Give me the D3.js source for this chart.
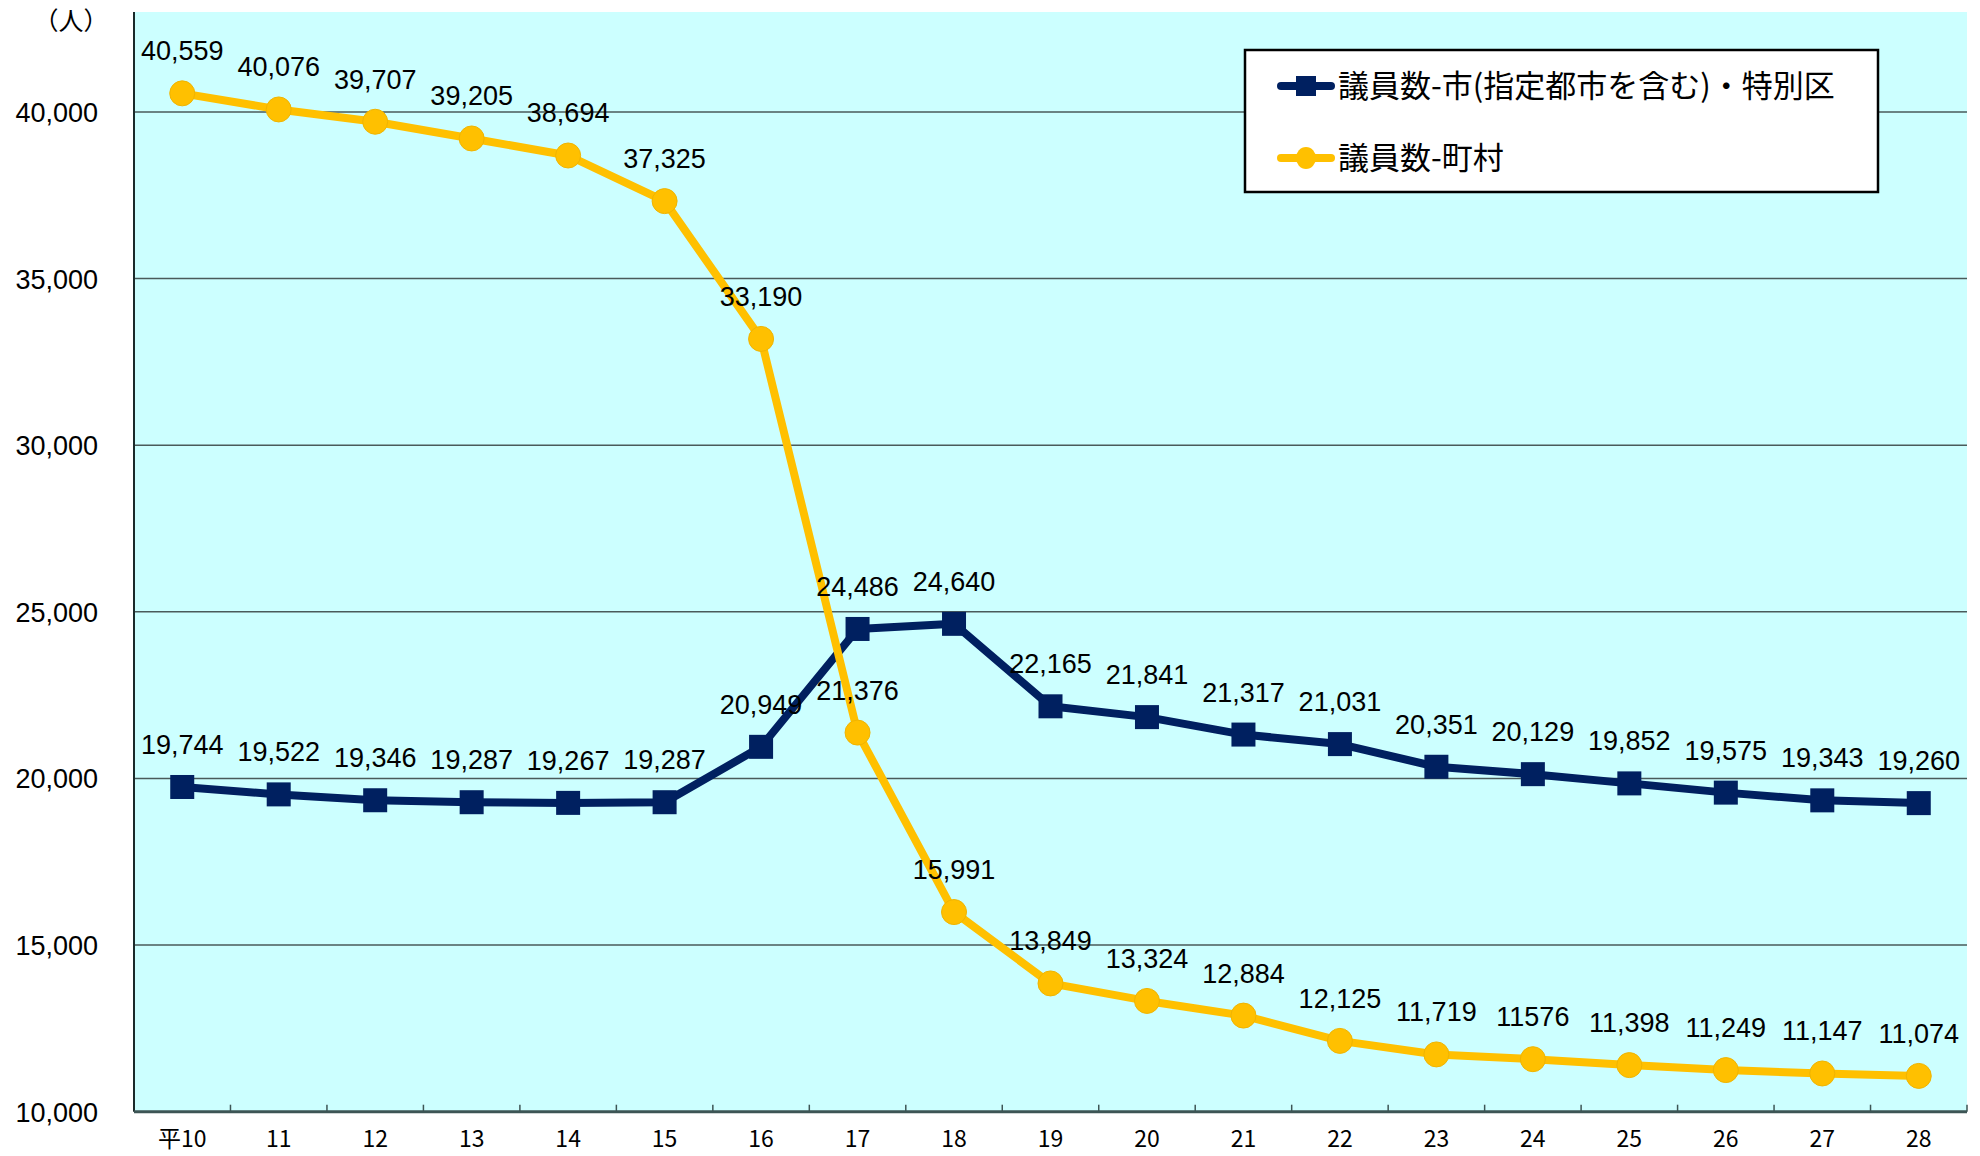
<!DOCTYPE html>
<html><head><meta charset="utf-8">
<script src="https://cdn.jsdelivr.net/npm/d3@7"></script>
<style>
html,body{margin:0;padding:0;background:#fff;}
svg{display:block;}
</style></head>
<body>
<script>
const categories = ["平10","11","12","13","14","15","16","17","18","19","20","21","22","23","24","25","26","27","28"];
const citySeries = [19744,19522,19346,19287,19267,19287,20949,24486,24640,22165,21841,21317,21031,20351,20129,19852,19575,19343,19260];
const cityLabels = ["19,744","19,522","19,346","19,287","19,267","19,287","20,949","24,486","24,640","22,165","21,841","21,317","21,031","20,351","20,129","19,852","19,575","19,343","19,260"];
const townSeries = [40559,40076,39707,39205,38694,37325,33190,21376,15991,13849,13324,12884,12125,11719,11576,11398,11249,11147,11074];
const townLabels = ["40,559","40,076","39,707","39,205","38,694","37,325","33,190","21,376","15,991","13,849","13,324","12,884","12,125","11,719","11576","11,398","11,249","11,147","11,074"];
const yTicks = [10000,15000,20000,25000,30000,35000,40000];
const yTickLabels = ["10,000","15,000","20,000","25,000","30,000","35,000","40,000"];
const seriesNames = ["議員数-市(指定都市を含む)・特別区","議員数-町村"];
const unitLabel = "（人）";

const W = 1980, H = 1156;
const L = 134, R = 1967, T = 12, B = 1111.7;
const navy = "#002060", gold = "#FFC000";
const font = "'Liberation Sans', Arial, sans-serif";
const cjk = "'Noto Sans CJK JP', sans-serif";

const svg = d3.select("body").append("svg").attr("width", W).attr("height", H);

const x = d3.scaleBand().domain(categories).range([L, R]).paddingInner(0).paddingOuter(0);
const y = d3.scaleLinear().domain([10000, 43000]).range([B, T]);
const cx = d => x(d) + x.bandwidth() / 2;

// plot background
svg.append("rect").attr("x", L).attr("y", T).attr("width", R - L).attr("height", B - T).attr("fill", "#CCFFFF");

// gridlines
svg.append("g").selectAll("line").data(yTicks.filter(v => v > 10000)).join("line")
  .attr("x1", L).attr("x2", R).attr("y1", d => y(d)).attr("y2", d => y(d))
  .attr("stroke", "#4a5a5a").attr("stroke-width", 1.5);

// y axis labels
const yAxis = d3.axisLeft(y).tickValues(yTicks).tickSize(0).tickPadding(0)
  .tickFormat((d, i) => yTickLabels[i]);
const gy = svg.append("g").attr("transform", `translate(${L - 36},0)`).call(yAxis);
gy.select(".domain").remove();
gy.selectAll("text").attr("font-family", font).attr("font-size", 27).attr("fill", "#000").attr("dy", "0.35em");

// left axis line
svg.append("line").attr("x1", L).attr("x2", L).attr("y1", T).attr("y2", B).attr("stroke", "#1a2a2a").attr("stroke-width", 2);

// x axis
const boundaries = categories.map(c => x(c)).concat([R]);
svg.append("g").selectAll("line").data(boundaries.slice(1)).join("line")
  .attr("x1", d => d).attr("x2", d => d).attr("y1", B).attr("y2", B - 7)
  .attr("stroke", "#3d5555").attr("stroke-width", 1.5);
svg.append("line").attr("x1", L).attr("x2", R).attr("y1", B).attr("y2", B).attr("stroke", "#3d5555").attr("stroke-width", 3);

const xAxis = d3.axisBottom(x).tickSize(0).tickPadding(0);
const gx = svg.append("g").attr("transform", `translate(0,${B})`).call(xAxis);
gx.select(".domain").remove();
gx.selectAll("text").attr("font-family", cjk).attr("font-size", 23).attr("fill", "#000").attr("dy", "1.55em");

// unit label
svg.append("text").attr("x", 71).attr("y", 21).attr("dy", "0.36em").attr("text-anchor", "middle")
  .attr("font-family", cjk).attr("font-size", 25).attr("fill", "#000").text(unitLabel);

const line = d3.line().x((d, i) => cx(categories[i])).y(d => y(d));

// city series
svg.append("path").datum(citySeries).attr("d", line).attr("fill", "none")
  .attr("stroke", navy).attr("stroke-width", 8).attr("stroke-linejoin", "round");
svg.append("g").selectAll("rect").data(citySeries).join("rect")
  .attr("x", (d, i) => cx(categories[i]) - 12).attr("y", d => y(d) - 12)
  .attr("width", 24).attr("height", 24).attr("fill", navy);

// town series
svg.append("path").datum(townSeries).attr("d", line).attr("fill", "none")
  .attr("stroke", gold).attr("stroke-width", 8).attr("stroke-linejoin", "round");
svg.append("g").selectAll("circle").data(townSeries).join("circle")
  .attr("cx", (d, i) => cx(categories[i])).attr("cy", d => y(d)).attr("r", 12.5)
  .attr("fill", gold).attr("stroke", "#F0B400").attr("stroke-width", 1);

// data labels
const lbl = svg.append("g").attr("font-family", font).attr("font-size", 27).attr("fill", "#000").attr("text-anchor", "middle");
lbl.selectAll("text.c").data(citySeries).join("text").attr("class", "c")
  .attr("x", (d, i) => cx(categories[i])).attr("y", d => y(d) - 33).text((d, i) => cityLabels[i]);
lbl.selectAll("text.t").data(townSeries).join("text").attr("class", "t")
  .attr("x", (d, i) => cx(categories[i])).attr("y", d => y(d) - 33).text((d, i) => townLabels[i]);

// legend
const lg = svg.append("g");
lg.append("rect").attr("x", 1245).attr("y", 50).attr("width", 633).attr("height", 142)
  .attr("fill", "#fff").attr("stroke", "#000").attr("stroke-width", 2.5);
const items = [{name: seriesNames[0], color: navy, shape: "rect", yy: 86}, {name: seriesNames[1], color: gold, shape: "circle", yy: 158}];
items.forEach(it => {
  lg.append("line").attr("x1", 1281).attr("x2", 1331).attr("y1", it.yy).attr("y2", it.yy)
    .attr("stroke", it.color).attr("stroke-width", 8).attr("stroke-linecap", "round");
  if (it.shape === "rect") {
    lg.append("rect").attr("x", 1296).attr("y", it.yy - 10).attr("width", 20).attr("height", 20).attr("fill", it.color);
  } else {
    lg.append("ellipse").attr("cx", 1306).attr("cy", it.yy).attr("rx", 10).attr("ry", 11).attr("fill", it.color);
  }
  lg.append("text").attr("x", 1338).attr("y", it.yy).attr("dy", "0.36em")
    .attr("font-family", cjk).attr("font-size", 31).attr("fill", "#000").text(it.name);
});
</script>
</body></html>
